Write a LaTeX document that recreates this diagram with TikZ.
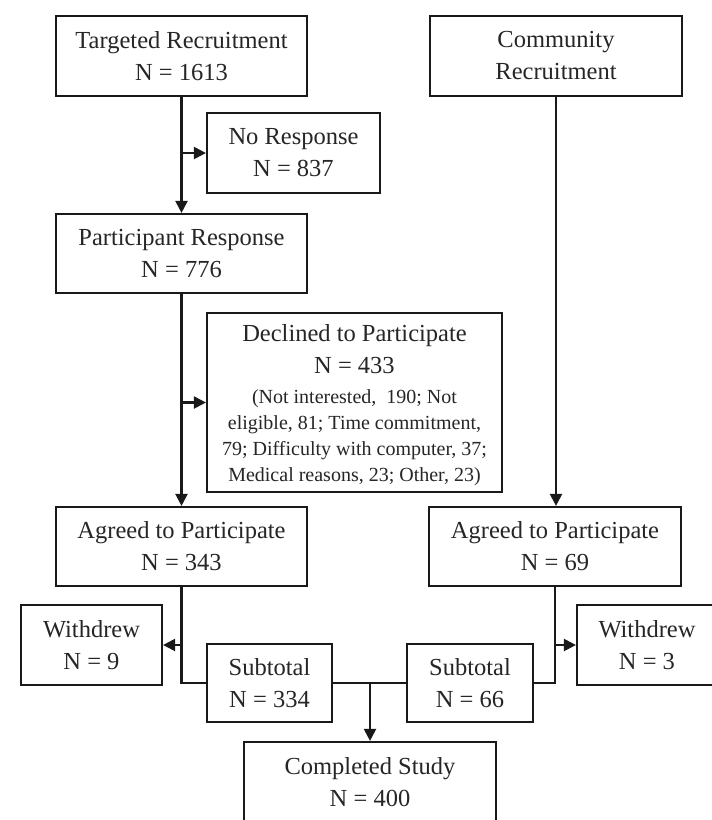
\documentclass[tikz,border=0pt]{standalone}
\usepackage{fontspec}
\setmainfont{Liberation Serif}
\usetikzlibrary{arrows.meta}
\begin{document}
\begin{tikzpicture}[x=1pt,y=-1pt,
  box/.style={draw=black!90, line width=2.2pt, inner sep=0pt, align=center,
    font=\fontsize{24.5}{32}\selectfont, text=black!85},
  txt/.style={inner sep=0pt, align=center, font=\fontsize{24.5}{32}\selectfont, text=black!85},
  conn/.style={draw=black!90, line width=2.2pt},
  arr/.style={draw=black!90, line width=2.2pt, -{Triangle[length=12pt,width=12pt]}}]
\useasboundingbox (0,0) rectangle (712,820);
\clip (0,0) rectangle (712,820);
\fill[white] (0,0) rectangle (712,820);

\node[box, minimum width=251pt, minimum height=80pt] (tr) at (181.5,56) {Targeted Recruitment\\N = 1613};
\node[box, minimum width=252pt, minimum height=80pt] (cr) at (556,56) {Community\\Recruitment};
\node[box, minimum width=173pt, minimum height=80pt] (nr) at (293.5,153) {No Response\\N = 837};
\node[box, minimum width=251pt, minimum height=79pt] (pr) at (181.5,253.5) {Participant Response\\N = 776};
\node[box, minimum width=295pt, minimum height=179pt] (dp) at (354.5,402.5) {};
\node[txt] (dptxt) at (354.5,405)
  {Declined to Participate\\N = 433\\[-2pt]
   {\fontsize{20}{26}\selectfont (Not interested,~ 190; Not}\\[-6pt]
   {\fontsize{20}{26}\selectfont eligible, 81; Time commitment,}\\[-6pt]
   {\fontsize{20}{26}\selectfont 79; Difficulty with computer, 37;}\\[-6pt]
   {\fontsize{20}{26}\selectfont Medical reasons, 23; Other, 23)}};
\node[box, minimum width=251pt, minimum height=79pt] (al) at (181.5,546.5) {Agreed to Participate\\N = 343};
\node[box, minimum width=252pt, minimum height=79pt] (ar) at (555,546.5) {Agreed to Participate\\N = 69};
\node[box, minimum width=141pt, minimum height=80pt] (wl) at (91.5,645) {Withdrew\\N = 9};
\node[box, minimum width=140pt, minimum height=80pt] (wr) at (647,645) {Withdrew\\N = 3};
\node[box, minimum width=125pt, minimum height=78pt] (sl) at (269.5,683) {Subtotal\\N = 334};
\node[box, minimum width=126pt, minimum height=78pt] (sr) at (470,683) {Subtotal\\N = 66};
\node[box, minimum width=252pt, minimum height=80pt] (cs) at (370,782) {Completed Study\\N = 400};

\draw[arr] (tr.south) -- (pr.north);
\draw[arr] (tr.south |- nr.west) -- (nr.west);
\draw[arr] (pr.south) -- (al.north);
\draw[arr] (pr.south |- dp.west) -- (dp.west);
\draw[arr] (cr.south) -- (cr.south |- ar.north);
\draw[conn] (al.south) -- (al.south |- sl.west) -- (sl.west);
\draw[arr] (al.south |- wl.east) -- (wl.east);
\draw[conn] (ar.south) -- (ar.south |- sr.east) -- (sr.east);
\draw[arr] (ar.south |- wr.west) -- (wr.west);
\draw[conn] (sl.east) -- (sr.west);
\draw[arr] (cs.north |- sl.east) -- (cs.north);
\end{tikzpicture}
\end{document}
